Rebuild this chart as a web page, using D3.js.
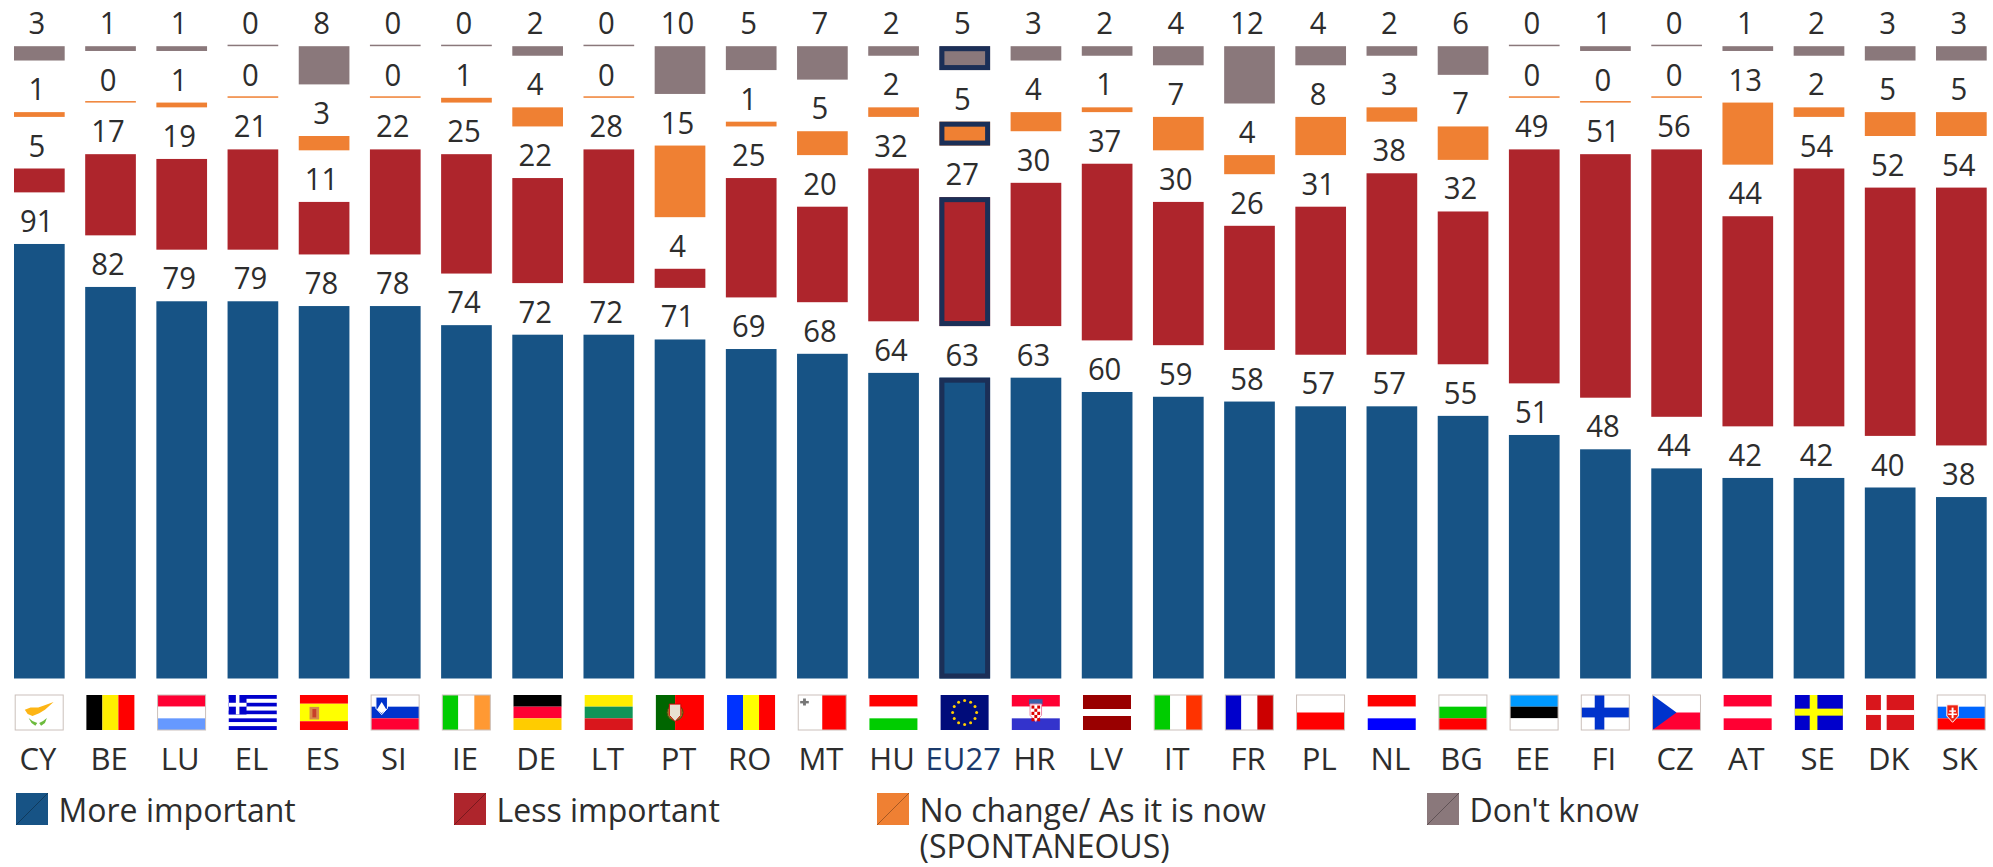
<!DOCTYPE html>
<html>
<head>
<meta charset="utf-8">
<script src="https://cdn.jsdelivr.net/npm/d3@7/dist/d3.min.js"></script>
<style>
html,body{margin:0;padding:0;background:#fff;overflow:hidden}
text{font-family:"Open Sans",sans-serif;fill:#2d2d2d}
</style>
</head>
<body>
<svg id="chart" width="1993" height="867"></svg>
<script>
const countries = ["CY","BE","LU","EL","ES","SI","IE","DE","LT","PT","RO","MT","HU","EU27","HR","LV","IT","FR","PL","NL","BG","EE","FI","CZ","AT","SE","DK","SK"];
const moreImportant = [91,82,79,79,78,78,74,72,72,71,69,68,64,63,63,60,59,58,57,57,55,51,48,44,42,42,40,38];
const lessImportant = [5,17,19,21,11,22,25,22,28,4,25,20,32,27,30,37,30,26,31,38,32,49,51,56,44,54,52,54];
const noChange = [1,0,1,0,3,0,1,4,0,15,1,5,2,5,4,1,7,4,8,3,7,0,0,0,13,2,5,5];
const dontKnow = [3,1,1,0,8,0,0,2,0,10,5,7,2,5,3,2,4,12,4,2,6,0,1,0,1,2,3,3];
const seriesNames = ["More important","Less important","No change/ As it is now|(SPONTANEOUS)","Don't know"];
const seriesColors = ["#175385","#ae252c","#ef8033","#8a787b"];
const seriesValues = [moreImportant,lessImportant,noChange,dontKnow];
const legendX = [16,454,877,1427];
const highlight = "EU27";

// flag stripes: direction + colours (+ optional weights)
const flagDefs = {
  CY:{d:"h",c:["#fff"],b:1,e:"cy"}, BE:{d:"v",c:["#000","#ffee00","#f00"]}, LU:{d:"h",c:["#f03","#fff","#69f"],b:1},
  EL:{d:"h",c:["#00c","#fff","#00c","#fff","#00c","#fff","#00c","#fff","#00c"],e:"el"},
  ES:{d:"h",c:["#f00","#ff0","#f00"],w:[1,2,1],e:"es"}, SI:{d:"h",c:["#fff","#03c","#f03"],b:1,e:"si"},
  IE:{d:"v",c:["#0c0","#fff","#f93"],b:1}, DE:{d:"h",c:["#000","#f03","#fc0"]}, LT:{d:"h",c:["#fe0","#109458","#d9161c"]},
  PT:{d:"v",c:["#060","#f00"],w:[2,3],e:"pt"}, RO:{d:"v",c:["#03f","#ff0","#f00"]}, MT:{d:"v",c:["#fff","#f00"],b:1,e:"mt"},
  HU:{d:"h",c:["#f00","#fff","#0c0"]}, EU27:{d:"h",c:["#000c7a"],e:"eu"}, HR:{d:"h",c:["#f03","#fff","#33c"],e:"hr"},
  LV:{d:"h",c:["#900","#fff","#900"],w:[2,1,2]}, IT:{d:"v",c:["#0c0","#fff","#f30"],b:1}, FR:{d:"v",c:["#00c","#fff","#c00"],b:1},
  PL:{d:"h",c:["#fff","#f00"],b:1}, NL:{d:"h",c:["#f00","#fff","#00f"]}, BG:{d:"h",c:["#fff","#0c0","#f00"],b:1},
  EE:{d:"h",c:["#09f","#000","#fff"],b:1}, FI:{d:"h",c:["#fff"],b:1,e:"fi"}, CZ:{d:"h",c:["#fff","#f03"],b:1,e:"cz"},
  AT:{d:"h",c:["#f03","#fff","#f03"]}, SE:{d:"h",c:["#00c"],e:"se"}, DK:{d:"h",c:["#d9161c"],e:"dk"}, SK:{d:"h",c:["#fff","#06f","#f00"],b:1,e:"sk"}
};

const svg = d3.select("#chart");
const squeeze = 0.93;
const x = d3.scaleBand().domain(countries).range([14,1986.7]).paddingInner(0.288).paddingOuter(0);
const y = d3.scaleLinear().domain([0,100]).range([0,477.5]);
const baseY = 678.5, gapY = 51.6, minH = 1.5;

countries.forEach((c,i)=>{
  let bottom = baseY;
  seriesValues.forEach((vals,s)=>{
    const h = y(vals[i]);
    const top = bottom - h;
    const isEU = c===highlight;
    const g = svg.append("g");
    g.append("rect").attr("x",x(c)).attr("y",vals[i]===0?top-minH:top)
      .attr("width",x.bandwidth()).attr("height",Math.max(h,minH))
      .attr("fill",seriesColors[s]);
    if(isEU){
      g.append("rect").attr("x",x(c)+2.5).attr("y",top+2.5)
        .attr("width",x.bandwidth()-5).attr("height",Math.max(h-5,0))
        .attr("fill","none").attr("stroke","#1b2f57").attr("stroke-width",5);
    }
    svg.append("text").text(vals[i])
      .attr("text-anchor","middle").attr("font-size",31.5)
      .attr("transform",`translate(${x(c)+x.bandwidth()/2-2.5},${top-12}) scale(${squeeze},1)`);
    bottom = top - gapY;
  });
});

// flags
const fw = 48, fh = 35, fy = 695;
const fx = d3.scaleLinear().domain([0,1]).range([0,fw]);
const fyS = d3.scaleLinear().domain([0,1]).range([0,fh]);
function rectF(g,a,b,w,h,col){g.append("rect").attr("x",fx(a)).attr("y",fyS(b)).attr("width",fx(w)).attr("height",fyS(h)).attr("fill",col);}
function polyF(g,pts,col){g.append("path").attr("d",d3.line().x(p=>fx(p[0])).y(p=>fyS(p[1])).curve(d3.curveLinearClosed)(pts)).attr("fill",col);}
function shield(g,cx,cy,col,st){g.append("path").attr("d",d3.line().x(p=>fx(p[0])).y(p=>fyS(p[1])).curve(d3.curveLinearClosed)(
  [[cx-.12,cy-.24],[cx+.12,cy-.24],[cx+.12,cy+.08],[cx,cy+.26],[cx-.12,cy+.08]])).attr("fill",col).attr("stroke",st||"none").attr("stroke-width",1);}
const extras = {
  cy:g=>{polyF(g,[[.2,.42],[.32,.36],[.48,.36],[.6,.3],[.8,.2],[.62,.42],[.5,.52],[.36,.6],[.26,.54]],"#fdb515");
         polyF(g,[[.28,.66],[.36,.74],[.46,.8],[.42,.88],[.34,.8]],"#6dbb3e");polyF(g,[[.66,.66],[.58,.74],[.5,.8],[.54,.88],[.62,.8]],"#6dbb3e");},
  el:g=>{rectF(g,0,0,.37,.556,"#00c");rectF(g,.148,0,.074,.556,"#fff");rectF(g,0,.222,.37,.111,"#fff");},
  es:g=>{rectF(g,.2,.34,.2,.36,"#d98a4a");rectF(g,.26,.4,.08,.24,"#c8402a");},
  si:g=>{shield(g,.22,.3,"#03c","#fff");polyF(g,[[.12,.42],[.22,.2],[.32,.42],[.22,.52]],"#fff");},
  pt:g=>{g.append("circle").attr("cx",fx(.4)).attr("cy",fyS(.5)).attr("r",8).attr("fill","#9a8a2a").attr("stroke","#4a4a10").attr("stroke-width",1);shield(g,.4,.5,"#e8e0d0","#c00");},
  mt:g=>{rectF(g,.1,.1,.06,.2,"#777");rectF(g,.04,.17,.18,.07,"#777");},
  eu:g=>{d3.range(12).forEach(k=>{const a=k/12*2*Math.PI;g.append("circle").attr("cx",fx(.5+.25*Math.cos(a))).attr("cy",fyS(.5+.34*Math.sin(a))).attr("r",1.5).attr("fill","#fc0");});},
  hr:g=>{rectF(g,.36,.12,.28,.16,"#3a5fa8");shield(g,.5,.5,"#fff","#e8a");d3.range(3).forEach(a=>d3.range(5).forEach(b=>{if((a+b)%2===0)rectF(g,.41+a*.06,.3+b*.09,.06,.09,"#d00");}));},
  fi:g=>{rectF(g,.28,0,.2,1,"#03c");rectF(g,0,.36,1,.28,"#03c");},
  cz:g=>{polyF(g,[[0,0],[.5,.5],[0,1]],"#03c");},
  se:g=>{rectF(g,.31,0,.16,1,"#ff0");rectF(g,0,.39,1,.2,"#ff0");},
  dk:g=>{rectF(g,.31,0,.12,1,"#fff");rectF(g,0,.43,1,.14,"#fff");},
  sk:g=>{shield(g,.32,.52,"#e21","#fff");rectF(g,.3,.36,.04,.3,"#fff");rectF(g,.25,.44,.14,.04,"#fff");rectF(g,.23,.53,.18,.04,"#fff");}
};
countries.forEach(c=>{
  const def = flagDefs[c];
  const g = svg.append("g").attr("transform",`translate(${x(c)+1.2},${fy})`);
  const wts = def.w || def.c.map(()=>1);
  const total = d3.sum(wts);
  let acc = 0;
  def.c.forEach((col,k)=>{
    const share = wts[k]/total;
    if(def.d==="h") rectF(g,0,acc,1,share,col); else rectF(g,acc,0,share,1,col);
    acc += share;
  });
  if(def.e) extras[def.e](g);
  if(def.b) g.append("rect").attr("x",0).attr("y",0).attr("width",fw).attr("height",fh).attr("fill","none").attr("stroke","#cbc0bb").attr("stroke-width",1);
});

// country labels
const axis = svg.append("g").attr("transform","translate(-1.5,770)")
  .call(d3.axisBottom(x).tickSize(0).tickPadding(0));
axis.select(".domain").remove();
axis.selectAll("text")
  .attr("y",0).attr("dy",0)
  .attr("font-size",31).style("font-family",'"Open Sans",sans-serif')
  .style("fill",d=>d===highlight?"#1b3a6b":"#2d2d2d");

// legend
seriesNames.forEach((name,i)=>{
  const g = svg.append("g").attr("transform",`translate(${legendX[i]},793)`);
  g.append("rect").attr("width",32).attr("height",32).attr("fill",seriesColors[i]);
  g.append("line").attr("x1",0).attr("y1",32).attr("x2",32).attr("y2",0)
    .attr("stroke","#000").attr("stroke-opacity",0.3).attr("stroke-width",1);
  name.split("|").forEach((ln,k)=>{
    g.append("text").text(ln).attr("font-size",32)
      .attr("transform",`translate(42.5,${28.7+k*36.5})`);
  });
});
</script>
</body>
</html>
